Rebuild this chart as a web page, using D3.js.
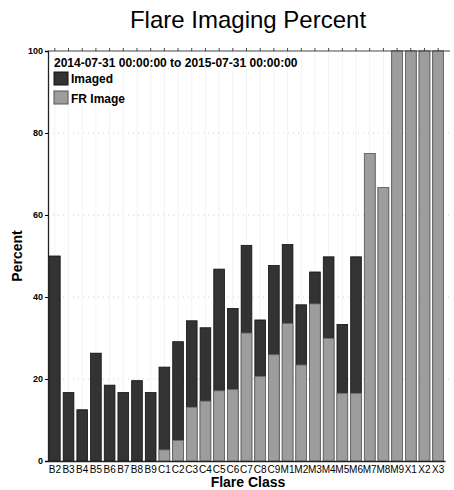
<!DOCTYPE html>
<html>
<head>
<meta charset="utf-8">
<script src="https://cdn.jsdelivr.net/npm/d3@7"></script>
<style>
  body { margin: 0; background: #fff; }
  text { font-family: "Liberation Sans", Arial, sans-serif; }
</style>
</head>
<body>
<script>
// data
const classes = ["B2","B3","B4","B5","B6","B7","B8","B9",
  "C1","C2","C3","C4","C5","C6","C7","C8","C9",
  "M1","M2","M3","M4","M5","M6","M7","M8","M9",
  "X1","X2","X3"];
const imaged = [50, 16.7, 12.5, 26.3, 18.5, 16.7, 19.6, 16.7,
  22.9, 29.1, 34.2, 32.5, 46.8, 37.2, 52.6, 34.4, 47.7,
  52.8, 38.1, 46.1, 49.8, 33.3, 49.8, 75, 66.7, 100,
  100, 100, 100];
const frImage = [0, 0, 0, 0, 0, 0, 0, 0,
  2.7, 5.0, 13.1, 14.6, 17.1, 17.4, 31.2, 20.6, 25.9,
  33.5, 23.4, 38.3, 29.9, 16.5, 16.5, 75, 66.7, 100,
  100, 100, 100];
const yTicks = [0, 20, 40, 60, 80, 100];

const W = 454, H = 490;
const margin = {top: 51, right: 4, bottom: 29, left: 48};
const innerW = W - margin.left - margin.right;
const innerH = H - margin.top - margin.bottom;

const svg = d3.select("body").append("svg")
  .attr("width", W).attr("height", H);

svg.append("text")
  .attr("x", 248).attr("y", 28)
  .attr("text-anchor", "middle")
  .attr("font-size", 24)
  .text("Flare Imaging Percent");

const g = svg.append("g")
  .attr("transform", `translate(${margin.left},${margin.top})`);

const x = d3.scaleBand()
  .domain(classes)
  .range([0, 397])
  .paddingInner(0.22)
  .paddingOuter(0.11);

const y = d3.scaleLinear().domain([0, 100]).range([innerH, 0]);

// grid
g.selectAll("line.hgrid").data(yTicks.filter(t => t > 0 && t < 100))
  .enter().append("line")
  .attr("x1", 0).attr("x2", innerW)
  .attr("y1", d => y(d)).attr("y2", d => y(d))
  .attr("stroke", "#d0d0d0").attr("stroke-dasharray", "1,4");

g.selectAll("line.vgrid").data(classes)
  .enter().append("line")
  .attr("x1", d => x(d) + x.bandwidth() / 2).attr("x2", d => x(d) + x.bandwidth() / 2)
  .attr("y1", 0).attr("y2", innerH)
  .attr("stroke", "#f3f3f3");

// bars: imaged behind, FR image in front
g.selectAll("rect.imaged").data(classes)
  .enter().append("rect")
  .attr("x", d => x(d))
  .attr("y", (d, i) => y(imaged[i]))
  .attr("width", x.bandwidth())
  .attr("height", (d, i) => innerH - y(imaged[i]))
  .attr("fill", "#333")
  .attr("stroke", "#111").attr("stroke-width", 0.8);

g.selectAll("rect.fr").data(classes)
  .enter().append("rect")
  .filter((d, i) => frImage[i] > 0)
  .attr("x", d => x(d))
  .attr("y", d => y(frImage[classes.indexOf(d)]))
  .attr("width", x.bandwidth())
  .attr("height", d => innerH - y(frImage[classes.indexOf(d)]))
  .attr("fill", "#9d9d9d")
  .attr("stroke", "#6e6e6e").attr("stroke-width", 0.8);

// top line with ticks
g.append("line")
  .attr("x1", 0).attr("x2", innerW).attr("y1", 0).attr("y2", 0)
  .attr("stroke", "#444").attr("stroke-width", 1);
g.selectAll("line.ttick").data(classes)
  .enter().append("line")
  .attr("x1", d => x(d) + x.bandwidth() / 2).attr("x2", d => x(d) + x.bandwidth() / 2)
  .attr("y1", -3).attr("y2", 0)
  .attr("stroke", "#444");

// axes
const yAxis = d3.axisLeft(y).tickValues(yTicks).tickSize(3).tickPadding(2);
const ya = g.append("g").call(yAxis);
ya.select(".domain").attr("stroke", "#222").attr("stroke-width", 1.3);
ya.selectAll("text").attr("font-size", 9).attr("font-weight", "bold")
  .attr("font-family", "Liberation Sans Narrow, Liberation Sans, sans-serif");

const xAxis = d3.axisBottom(x).tickSize(0).tickPadding(5);
const xa = g.append("g").attr("transform", `translate(0,${innerH})`).call(xAxis);
xa.select(".domain").attr("stroke", "#222").attr("stroke-width", 1.3);
xa.selectAll("text").attr("font-size", 10)
  .attr("font-family", "Liberation Sans Narrow, Liberation Sans, sans-serif");

svg.append("text")
  .attr("x", 248).attr("y", 487)
  .attr("text-anchor", "middle")
  .attr("font-size", 14).attr("font-weight", "bold")
  .text("Flare Class");

svg.append("text")
  .attr("transform", "translate(22,256) rotate(-90)")
  .attr("text-anchor", "middle")
  .attr("font-size", 14).attr("font-weight", "bold")
  .text("Percent");

// legend
const leg = g.append("g").attr("transform", "translate(6,0)");
leg.append("text")
  .attr("x", 0).attr("y", 16)
  .attr("font-size", 12).attr("font-weight", "bold")
  .text("2014-07-31 00:00:00 to 2015-07-31 00:00:00");
const legItems = [["Imaged", "#333", "#111"], ["FR Image", "#9d9d9d", "#555"]];
legItems.forEach((it, i) => {
  leg.append("rect")
    .attr("x", 0).attr("y", 21 + i * 19)
    .attr("width", 14).attr("height", 13)
    .attr("fill", it[1]).attr("stroke", it[2]);
  leg.append("text")
    .attr("x", 17).attr("y", 32 + i * 20)
    .attr("font-size", 12).attr("font-weight", "bold")
    .text(it[0]);
});
</script>
</body>
</html>
